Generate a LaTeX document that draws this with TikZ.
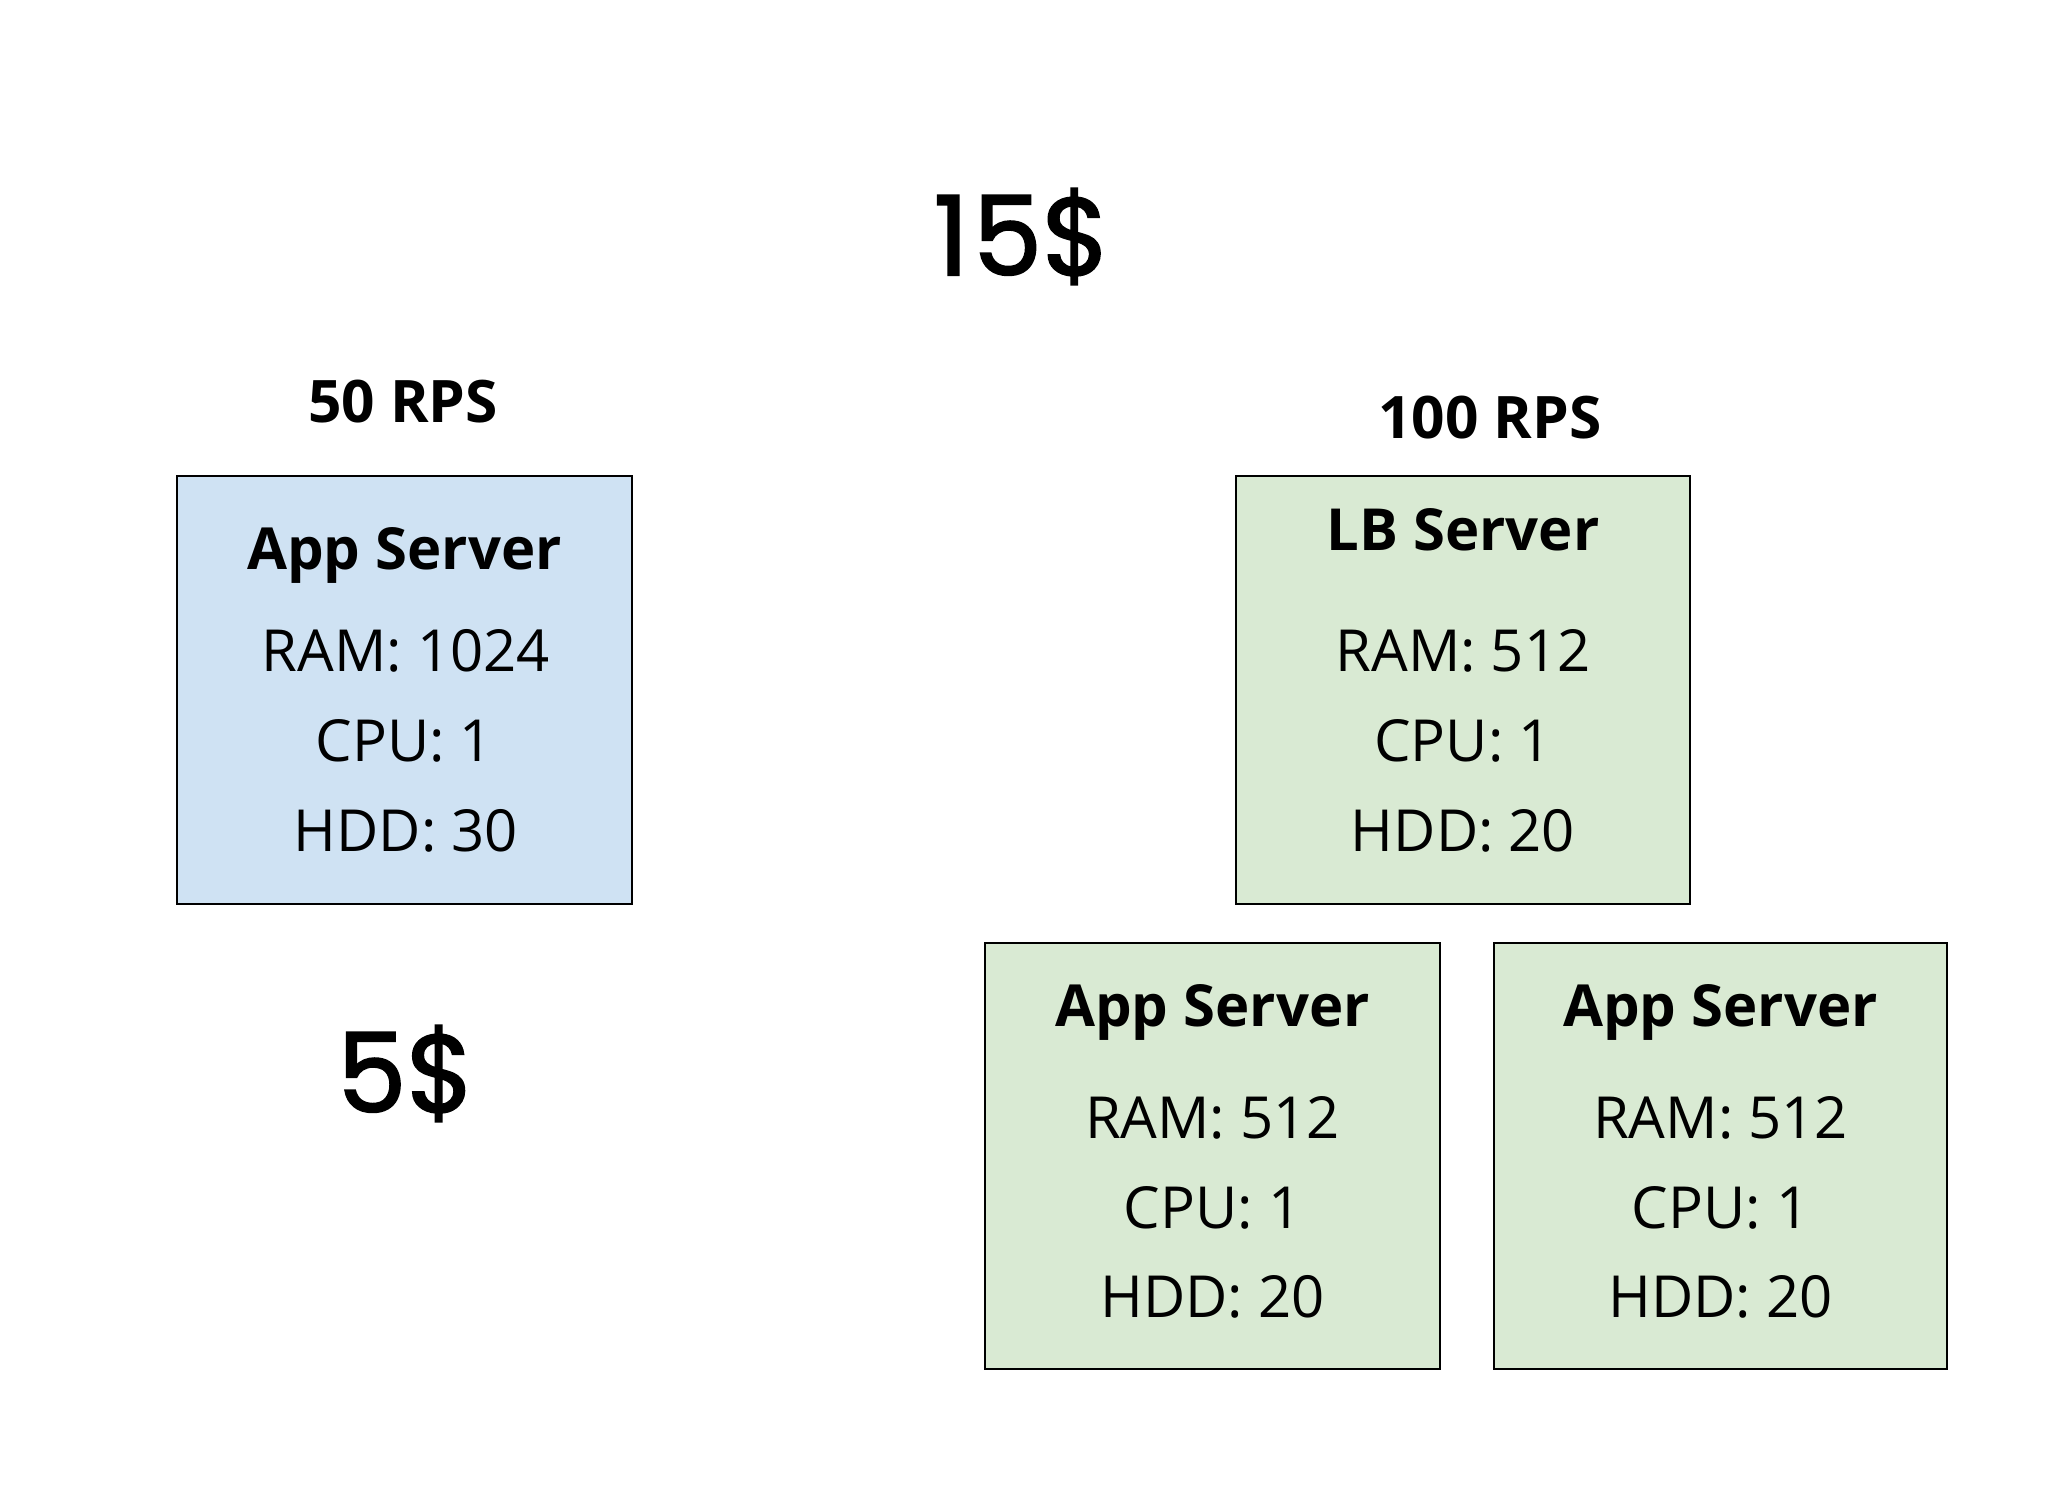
\documentclass[tikz,border=0pt]{standalone}
\usepackage{fontspec}
\setmainfont{Open Sans}
\newfontfamily\bigfont[FakeBold=1.8]{Poppins}
\definecolor{boxblue}{HTML}{CFE2F3}
\definecolor{boxgreen}{HTML}{D9EAD3}
\begin{document}
\begin{tikzpicture}[x=0.5pt,y=-0.5pt,
  srvbox/.style={draw=black, line width=0.75pt},
  txt/.style={inner sep=0pt, anchor=base, font=\fontsize{29pt}{32pt}\selectfont},
  head/.style={inner sep=0pt, anchor=base, font=\fontsize{29pt}{32pt}\selectfont\bfseries},
  rps/.style={inner sep=0pt, anchor=base, font=\fontsize{29.3pt}{33pt}\selectfont\bfseries},
  price/.style={inner sep=0pt, anchor=base, font=\fontsize{55pt}{60pt}\selectfont\bigfont}]
\useasboundingbox (0,0) rectangle (2048,1494);
% boxes
\draw[srvbox, fill=boxblue] (177,476) rectangle (632,904);
\draw[srvbox, fill=boxgreen] (1236,476) rectangle (1690,904);
\draw[srvbox, fill=boxgreen] (985,943) rectangle (1440,1369);
\draw[srvbox, fill=boxgreen] (1494,943) rectangle (1947,1369);
% prices
\node[price] (p15) at (1022,275) {1\kern2pt5\$};
\node[price] (p5) at (406,1112) {5\$};
% RPS
\node[rps] (rps50) at (403,422) {50 RPS};
\node[rps] (rps100) at (1490,438) {100 RPS};
% box 1
\node[head] (a1) at (404.5,569) {App Server};
\node[txt] (a1r) at (406,671) {RAM: 1024};
\node[txt] (a1c) at (404.5,761) {CPU: 1};
\node[txt] (a1h) at (406,851) {HDD: 30};
% LB box
\node[head] (lb) at (1463,550) {LB Server};
\node[txt] (lbr) at (1463,671) {RAM: 512};
\node[txt] (lbc) at (1463,761) {CPU: 1};
\node[txt] (lbh) at (1463,851) {HDD: 20};
% app 2
\node[head] (a2) at (1212.5,1026) {App Server};
\node[txt] (a2r) at (1212.5,1138) {RAM: 512};
\node[txt] (a2c) at (1212.5,1228) {CPU: 1};
\node[txt] (a2h) at (1212.5,1317) {HDD: 20};
% app 3
\node[head] (a3) at (1720.5,1026) {App Server};
\node[txt] (a3r) at (1720.5,1138) {RAM: 512};
\node[txt] (a3c) at (1720.5,1228) {CPU: 1};
\node[txt] (a3h) at (1720.5,1317) {HDD: 20};
\end{tikzpicture}
\end{document}
